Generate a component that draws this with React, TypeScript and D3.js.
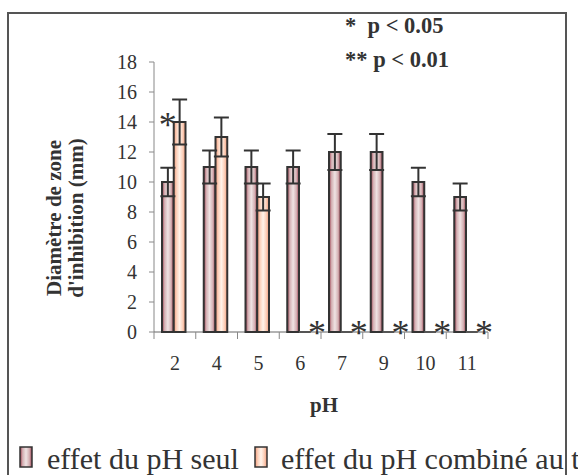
import React from "react";
import * as d3 from "d3";

const categories = ["2", "4", "5", "6", "7", "9", "10", "11"];
const seriesNames = ["effet du pH seul", "effet du pH combiné au t"];
const phSeul = [10, 11, 11, 11, 12, 12, 10, 9];
const phSeulErr = [0.95, 1.1, 1.1, 1.1, 1.2, 1.2, 0.95, 0.9];
const phComb = [14, 13, 9, 0, 0, 0, 0, 0];
const phCombErr = [1.5, 1.3, 0.9, 0, 0, 0, 0, 0];
const sigMarks = ["*", "", "", "*", "*", "*", "*", "*"];
const yTicks = [0, 2, 4, 6, 8, 10, 12, 14, 16, 18];
const sigLegend = ["*  p < 0.05", "** p < 0.01"];

const W = 582;
const H = 475;
const FONT = "Liberation Serif, DejaVu Serif, serif";

export default function App() {
  const x = d3.scaleBand<string>().domain(categories).range([154, 488]).padding(0);
  const inner = d3.scaleBand<number>().domain([0, 1]).range([8, 31.5]).padding(0);
  const y = d3.scaleLinear().domain([0, 18]).range([332, 62]);
  const series = [
    { vals: phSeul, errs: phSeulErr, grad: "url(#g1)" },
    { vals: phComb, errs: phCombErr, grad: "url(#g2)" },
  ];
  const bw = inner.bandwidth();
  const txt = { fontFamily: FONT } as React.CSSProperties;

  return (
    <svg width={W} height={H} style={{ position: "absolute", left: 0, top: 0 }}>
      <defs>
        <linearGradient id="g1" x1="0" x2="1" y1="0" y2="0">
          <stop offset="0%" stopColor="#9a3a4c" />
          <stop offset="22%" stopColor="#d4b0b3" />
          <stop offset="50%" stopColor="#efe3e3" />
          <stop offset="78%" stopColor="#d4b0b3" />
          <stop offset="100%" stopColor="#9a3a4c" />
        </linearGradient>
        <linearGradient id="g2" x1="0" x2="1" y1="0" y2="0">
          <stop offset="0%" stopColor="#f29a78" />
          <stop offset="25%" stopColor="#fcd2bd" />
          <stop offset="50%" stopColor="#fff3ea" />
          <stop offset="75%" stopColor="#fcd2bd" />
          <stop offset="100%" stopColor="#f29a78" />
        </linearGradient>
        <clipPath id="legClip">
          <rect x={8} y={13} width={570} height={470} />
        </clipPath>
      </defs>
      <rect x={0} y={0} width={W} height={H} fill="#fff" />

      {sigLegend.map((t, i) => (
        <text key={t} x={345} y={33 + i * 34} style={{ ...txt, whiteSpace: "pre" }} fontWeight="bold" fontSize={22.5} fill="#333">
          {t}
        </text>
      ))}

      <g transform="translate(0,218) rotate(-90)">
        <text x={0} y={61} textAnchor="middle" style={txt} fontWeight="bold" fontSize={21} fill="#333">
          Diamètre de zone
        </text>
        <text x={0} y={83} textAnchor="middle" style={txt} fontWeight="bold" fontSize={21} fill="#333">
          d'inhibition (mm)
        </text>
      </g>

      <line x1={154} x2={154} y1={y(18)} y2={y(0)} stroke="#888" strokeWidth={1} />
      {yTicks.map((t) => (
        <g key={t}>
          <line x1={149} x2={154} y1={y(t)} y2={y(t)} stroke="#888" strokeWidth={1} />
          <text x={137} y={y(t) + 7} textAnchor="end" style={txt} fontSize={20} fill="#333">
            {t}
          </text>
        </g>
      ))}

      <line x1={154} x2={488} y1={y(0)} y2={y(0)} stroke="#666" strokeWidth={1} />
      {categories.map((c) => (
        <line key={"t" + c} x1={x(c) as number} x2={x(c) as number} y1={y(0)} y2={y(0) + 7} stroke="#888" strokeWidth={1} />
      ))}
      <line x1={488} x2={488} y1={y(0)} y2={y(0) + 7} stroke="#888" strokeWidth={1} />

      {categories.map((c, ci) =>
        series.map((s, si) => {
          const v = s.vals[ci];
          const bx = (x(c) as number) + (inner(si) as number);
          if (v <= 0) {
            return <line key={c + si} x1={bx} x2={bx + bw} y1={y(0)} y2={y(0)} stroke="#555" strokeWidth={2} />;
          }
          return (
            <rect key={c + si} x={bx} y={y(v)} width={bw} height={y(0) - y(v)} fill={s.grad} stroke="#333" strokeWidth={2} />
          );
        })
      )}

      {categories.map((c, ci) =>
        series.map((s, si) => {
          const v = s.vals[ci];
          const e = s.errs[ci];
          if (v <= 0) return null;
          const cx = (x(c) as number) + (inner(si) as number) + bw / 2;
          const hw = 7.5;
          return (
            <g key={"e" + c + si} stroke="#333" strokeWidth={2}>
              <line x1={cx} x2={cx} y1={y(v + e)} y2={y(v - e)} />
              <line x1={cx - hw} x2={cx + hw} y1={y(v + e)} y2={y(v + e)} />
              <line x1={cx - hw} x2={cx + hw} y1={y(v - e)} y2={y(v - e)} />
            </g>
          );
        })
      )}

      {categories.map((c, ci) => {
        if (!sigMarks[ci]) return null;
        const v = phComb[ci];
        const px = v > 0 ? (x(c) as number) + (inner(1) as number) - 6 : (x(c) as number) + x.bandwidth() - 4;
        const py = v > 0 ? y(v) + 15 : y(0) + 13;
        return (
          <text key={"s" + c} x={px} y={py} textAnchor="middle" style={txt} fontSize={36} fill="#333">
            {sigMarks[ci]}
          </text>
        );
      })}

      {categories.map((c) => (
        <text key={"l" + c} x={(x(c) as number) + x.bandwidth() / 2} y={370} textAnchor="middle" style={txt} fontSize={20} fill="#333">
          {c}
        </text>
      ))}
      <text x={324} y={412} textAnchor="middle" style={txt} fontWeight="bold" fontSize={21} fill="#333">
        pH
      </text>

      <g clipPath="url(#legClip)">
        <rect x={20} y={447} width={12} height={20} fill="url(#g1)" stroke="#333" strokeWidth={1.5} />
        <text x={47} y={469} style={txt} fontSize={30} fill="#333">
          {seriesNames[0]}
        </text>
        <rect x={255} y={447} width={12} height={20} fill="url(#g2)" stroke="#333" strokeWidth={1.5} />
        <text x={281} y={469} style={txt} fontSize={30} fill="#333">
          {seriesNames[1]}
        </text>
      </g>

      <path d={`M8,${H + 2} V13 H566 V${H + 2}`} fill="none" stroke="#555" strokeWidth={2} />
    </svg>
  );
}
